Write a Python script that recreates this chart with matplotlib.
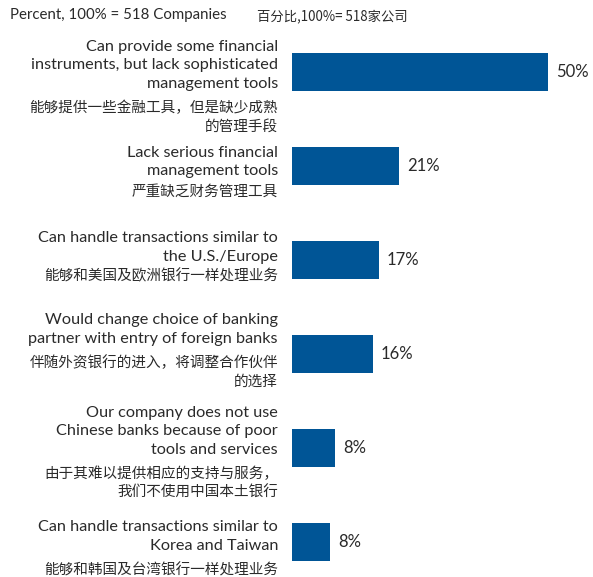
import matplotlib.pyplot as plt
import numpy as np

# survey answers, 100% = 518 companies
labels_en = [
    "Can provide some financial\ninstruments, but lack sophisticated\nmanagement tools",
    "Lack serious financial\nmanagement tools",
    "Can handle transactions similar to\nthe U.S./Europe",
    "Would change choice of banking\npartner with entry of foreign banks",
    "Our company does not use\nChinese banks because of poor\ntools and services",
    "Can handle transactions similar to\nKorea and Taiwan",
]
labels_zh = [
    "能够提供一些金融工具，但是缺少成熟\n的管理手段",
    "严重缺乏财务管理工具",
    "能够和美国及欧洲银行一样处理业务",
    "伴随外资银行的进入，将调整合作伙伴\n的选择",
    "由于其难以提供相应的支持与服务，\n我们不使用中国本土银行",
    "能够和韩国及台湾银行一样处理业务",
]
values = [50, 20.9, 17, 15.8, 8.4, 7.5]
value_labels = ["50%", "21%", "17%", "16%", "8%", "8%"]

W, H = 593, 577
BLUE = "#005596"
TXT = "#2a2a2a"
EN_FONT = ["Lato", "DejaVu Sans"]
ZH_FONT = ["Noto Sans CJK SC", "DejaVu Sans"]

fig = plt.figure(figsize=(W / 100, H / 100), dpi=100)

# bars: left edge at 292px, first bar centre at 72px, 94px apart
left_px, top_c, step = 292, 72, 94
px_per_pct = 5.12
ax = fig.add_axes([left_px / W, 0, 1 - left_px / W, 1])
ax.set_xlim(0, (W - left_px) / px_per_pct)
ax.set_ylim((H - top_c) / step, -top_c / step)
ax.axis("off")

y = np.arange(len(values))
ax.barh(y, values, height=38 / step, color=BLUE, edgecolor="none")

for i, v in enumerate(values):
    ax.text(v + 8 / px_per_pct, i, value_labels[i], ha="left", va="center",
            fontsize=12, color=TXT, family=EN_FONT)

# label block layout (pixels relative to bar centre)
en_first = [-25, -13, -22, -34, -35, -15]
en_gap = [24, 20, 20, 24, 24, 25]
en_step, zh_step = 18.5, 19
tr = ax.get_yaxis_transform()
xr = -14 / (W - left_px)
for i in range(len(values)):
    yy = en_first[i]
    for ln in labels_en[i].split("\n"):
        ax.text(xr, i + yy / step, ln, transform=tr, ha="right", va="center",
                fontsize=11.7, color=TXT, family=EN_FONT, clip_on=False)
        yy += en_step
    yy += en_gap[i] - en_step
    for ln in labels_zh[i].split("\n"):
        ax.text(xr, i + yy / step, ln, transform=tr, ha="right", va="center",
                fontsize=10.5, color=TXT, family=ZH_FONT, clip_on=False)
        yy += zh_step

fig.text(10 / W, 1 - 15 / H, "Percent, 100% = 518 Companies", ha="left",
         va="center", fontsize=10.8, color=TXT, family=EN_FONT)
fig.text(257 / W, 1 - 16 / H, "百分比,100%= 518家公司", ha="left",
         va="center", fontsize=9.6, color=TXT, family=ZH_FONT)

fig.savefig("out.png", dpi=100)
